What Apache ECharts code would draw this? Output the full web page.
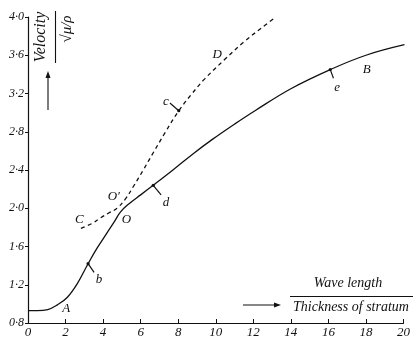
<!DOCTYPE html>
<html><head><meta charset="utf-8">
<script src="https://cdn.jsdelivr.net/npm/echarts@6/dist/echarts.min.js"></script>
<style>html,body{margin:0;padding:0;background:#fff}#c{width:413px;height:345px}</style>
</head><body><div id="c"></div>
<script>
// Solid curve A-O-B
const solidX = [0, 0.5, 1.05, 1.57, 2.1, 2.62, 3.2, 3.67, 4.2, 4.6, 4.92, 5.4, 6.0, 6.67, 7.72, 8.8, 9.82, 11.0, 12.09, 14.0, 16.1, 18.0, 20.05];
const solidY = [0.93, 0.93, 0.94, 0.99, 1.07, 1.21, 1.42, 1.58, 1.74, 1.86, 1.96, 2.05, 2.14, 2.24, 2.40, 2.57, 2.72, 2.88, 3.02, 3.25, 3.45, 3.60, 3.71];
// Dashed curve C-O'-D
const dashX = [2.82, 3.4, 3.87, 4.3, 4.74, 5.2, 5.62, 6.14, 6.67, 7.3, 8.0, 8.7, 9.4, 10.5, 11.5, 12.4, 13.2];
const dashY = [1.79, 1.84, 1.90, 1.95, 2.00, 2.10, 2.23, 2.40, 2.58, 2.79, 3.01, 3.19, 3.35, 3.56, 3.74, 3.88, 4.0];
const xTicks = [0, 2, 4, 6, 8, 10, 12, 14, 16, 18, 20];
const yTicks = [0.8, 1.2, 1.6, 2.0, 2.4, 2.8, 3.2, 3.6, 4.0];
// annotation letters: [text, x, y]
const letters = [["A", 2.03, 0.95], ["b", 3.78, 1.25], ["C", 2.73, 1.88], ["O", 5.25, 1.88], ["O′", 4.57, 2.12], ["d", 7.35, 2.06], ["c", 7.35, 3.12], ["D", 10.08, 3.61], ["e", 16.47, 3.26], ["B", 18.04, 3.45]];
// pointers: [fromX, fromY, toX, toY]
const pointers = [[3.52, 1.33, 3.2, 1.42], [7.09, 2.14, 6.67, 2.24], [7.56, 3.10, 8.03, 3.02], [16.27, 3.36, 16.1, 3.45]];

const FONT = '"Liberation Serif", "DejaVu Serif", serif';
const chart = echarts.init(document.getElementById('c'), null, {renderer: 'canvas'});
const pts = (xs, ys) => xs.map((x, i) => [x, ys[i]]);
chart.setOption({
  animation: false,
  grid: {left: 28, right: 4, top: 17, bottom: 22, containLabel: false},
  xAxis: {
    type: 'value', min: 0, max: 20, interval: 2,
    axisLine: {lineStyle: {color: '#111', width: 1.2}},
    axisTick: {show: true, inside: true, length: 4, lineStyle: {color: '#111'}},
    splitLine: {show: false},
    axisLabel: {color: '#111', fontFamily: FONT, fontStyle: 'italic', fontSize: 13, margin: 3,
      formatter: v => xTicks.includes(v) ? String(v) : ''}
  },
  yAxis: {
    type: 'value', min: 0.8, max: 4.0, interval: 0.4,
    axisLine: {show: true, lineStyle: {color: '#111', width: 1.2}},
    axisTick: {show: true, inside: false, length: 3, lineStyle: {color: '#111'}},
    splitLine: {show: false},
    axisLabel: {color: '#111', fontFamily: FONT, fontStyle: 'italic', fontSize: 12, margin: 4,
      formatter: v => { const t = yTicks.find(k => Math.abs(k - v) < 1e-6); return t === undefined ? '' : t.toFixed(1).replace('.', '·'); }}
  },
  series: [
    {type: 'line', data: pts(solidX, solidY), smooth: 0.4, symbol: 'none',
      lineStyle: {color: '#111', width: 1.3}},
    {type: 'line', data: pts(dashX, dashY), smooth: 0.4, symbol: 'none',
      lineStyle: {color: '#111', width: 1.3, type: [4, 3.5]}}
  ]
});

const g = [];
letters.forEach(([t, x, y]) => {
  const p = chart.convertToPixel({gridIndex: 0}, [x, y]);
  g.push({type: 'text', x: p[0], y: p[1], style: {text: t, fill: '#111', font: 'italic 13px ' + FONT, textAlign: 'center', textVerticalAlign: 'middle'}});
});
pointers.forEach(([x1, y1, x2, y2]) => {
  const a = chart.convertToPixel({gridIndex: 0}, [x1, y1]);
  const b = chart.convertToPixel({gridIndex: 0}, [x2, y2]);
  g.push({type: 'line', shape: {x1: a[0], y1: a[1], x2: b[0], y2: b[1]}, style: {stroke: '#111', lineWidth: 1.2}});
  g.push({type: 'circle', shape: {cx: b[0], cy: b[1], r: 1.6}, style: {fill: '#111'}});
});
// y axis title (rotated fraction)
g.push({type: 'text', x: 41, y: 37, rotation: Math.PI / 2, style: {text: 'Velocity', fill: '#111', font: 'italic 16px ' + FONT, textAlign: 'center', textVerticalAlign: 'middle'}});
g.push({type: 'line', shape: {x1: 55.5, y1: 11, x2: 55.5, y2: 63}, style: {stroke: '#111', lineWidth: 1.1}});
g.push({type: 'text', x: 67, y: 29, rotation: Math.PI / 2, style: {text: '√μ/ρ', fill: '#111', font: 'italic 15px ' + FONT, textAlign: 'center', textVerticalAlign: 'middle'}});
g.push({type: 'line', shape: {x1: 48, y1: 110, x2: 48, y2: 75}, style: {stroke: '#111', lineWidth: 1.1}});
g.push({type: 'polygon', shape: {points: [[48, 71], [45.5, 78], [50.5, 78]]}, style: {fill: '#111'}});
// x axis title
g.push({type: 'text', x: 348, y: 283, style: {text: 'Wave length', fill: '#111', font: 'italic 14px ' + FONT, textAlign: 'center', textVerticalAlign: 'middle'}});
g.push({type: 'line', shape: {x1: 290, y1: 296.5, x2: 413, y2: 296.5}, style: {stroke: '#111', lineWidth: 1.1}});
g.push({type: 'text', x: 351, y: 307, style: {text: 'Thickness of stratum', fill: '#111', font: 'italic 14px ' + FONT, textAlign: 'center', textVerticalAlign: 'middle'}});
g.push({type: 'line', shape: {x1: 243, y1: 305, x2: 276, y2: 305}, style: {stroke: '#111', lineWidth: 1.1}});
g.push({type: 'polygon', shape: {points: [[281, 305], [274, 302.5], [274, 307.5]]}, style: {fill: '#111'}});
chart.setOption({graphic: g});
</script></body></html>
